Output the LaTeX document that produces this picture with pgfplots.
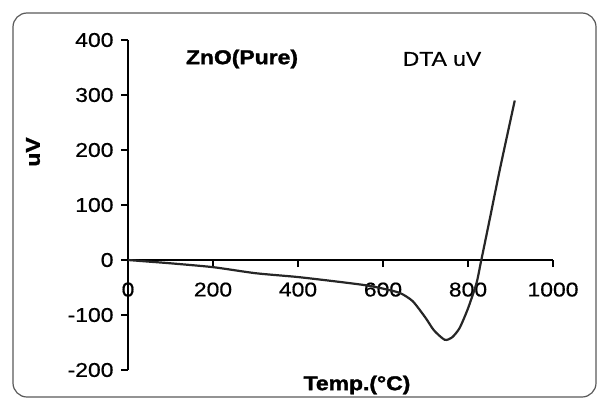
\documentclass[border=0pt]{standalone}
\usepackage{fontspec}
\setmainfont{Liberation Sans}[FakeStretch=1.15, FakeBold=0.6, BoldFeatures={FakeBold=1.6}]
\usepackage{pgfplots}
\pgfplotsset{compat=1.18}

\begin{document}
\begin{tikzpicture}[x=1bp,y=1bp]
% page size and frame
\path (0,0) rectangle (600,407);
\draw[black!65, line width=1.2bp, rounded corners=14bp] (13,10) rectangle (596,394);

\begin{axis}[
    at={(128bp,37bp)}, anchor=south west,
    scale only axis, width=425bp, height=330bp,
    xmin=0, xmax=1000, ymin=-200, ymax=400,
    axis x line=middle, axis y line=left,
    axis line style={line width=1.6bp, -},
    xtick={0,200,...,1000}, ytick={-200,-100,...,400},
    xtick align=outside, ytick align=outside, major tick length=7bp,
    hide obscured x ticks=false,
    tick style={black, line width=1.4bp},
    every tick label/.append style={font=\fontsize{20}{24}\selectfont},
    /pgf/number format/assume math mode=true,
    /pgf/number format/set thousands separator={},
    xticklabel style={yshift=-12bp},
    yticklabel style={xshift=-4bp},
    clip=false,
]
  \addplot[black!85, line width=2.2bp, smooth, tension=0.4] coordinates {
    (0,0) (50,-3) (100,-6) (200,-13) (300,-24) (400,-31) (500,-40)
    (560,-46) (600,-52) (640,-60) (670,-75) (700,-105) (720,-128)
    (745,-145) (762,-141) (780,-124) (800,-88) (820,-42) (830,-5)
    (850,70) (875,165) (910,290)
  };
\end{axis}

\node[rotate=90, font=\fontsize{20}{24}\selectfont\bfseries] at (33,255) {uV};
\node[font=\fontsize{20}{24}\selectfont\bfseries] at (357,22) {Temp.(°C)};
\node[font=\fontsize{20}{24}\selectfont\bfseries] at (242,348) {ZnO(Pure)};
\node[font=\fontsize{20}{24}\selectfont] at (442,348) {DTA uV};
\end{tikzpicture}
\end{document}
